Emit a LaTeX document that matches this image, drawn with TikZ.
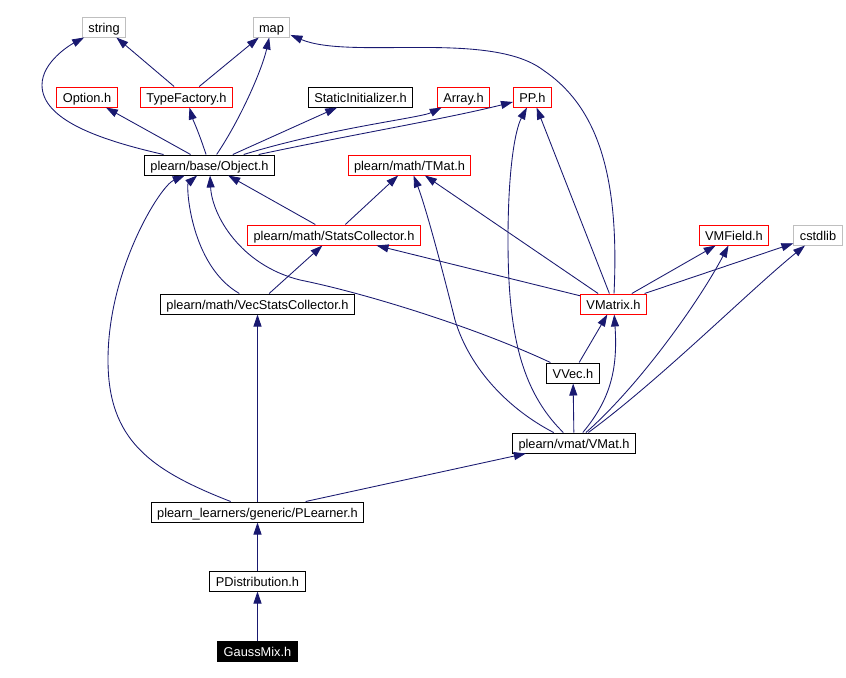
\documentclass[tikz,border=0pt]{standalone}
\usepackage{fontspec}
\setsansfont{Liberation Sans}
\usepackage{xcolor}
\usepackage{tikz}
\usetikzlibrary{arrows.meta}

\definecolor{edgeblue}{HTML}{191970}
\definecolor{boxred}{HTML}{FF0000}
\definecolor{boxgray}{HTML}{BFBFBF}

\begin{document}
\begin{tikzpicture}[
    x=0.75pt, y=-0.75pt,
    every node/.style={font=\sffamily\fontsize{9.6}{11}\selectfont},
    file/.style={draw, line width=0.75pt, rectangle, minimum height=15pt, text height=9pt, text depth=0.6pt, inner xsep=4.5pt, inner ysep=0pt},
    redfile/.style={file, draw=boxred},
    grayfile/.style={file, draw=boxgray},
    mainfile/.style={file, fill=black, text=white},
    dep/.style={draw=edgeblue, line width=0.65pt, -{Triangle[length=9pt, width=6pt]}, fill=none}
]
    \useasboundingbox (0,0) rectangle (846,678);

    % Files
    \node[grayfile] (string) at (104, 27) {string};
    \node[grayfile] (map) at (271.5, 27) {map};
    \node[redfile] (option) at (87, 97) {Option.h};
    \node[redfile] (typefactory) at (186.5, 97) {TypeFactory.h};
    \node[file] (staticinit) at (360.5, 97) {StaticInitializer.h};
    \node[redfile] (array) at (463.5, 97) {Array.h};
    \node[redfile] (pp) at (532.5, 97) {PP.h};
    \node[file] (object) at (209.5, 165) {plearn/base/Object.h};
    \node[redfile] (tmat) at (409.5, 165) {plearn/math/TMat.h};
    \node[redfile] (statscoll) at (334, 235) {plearn/math/StatsCollector.h};
    \node[redfile] (vmfield) at (734, 235) {VMField.h};
    \node[grayfile] (cstdlib) at (818, 235) {cstdlib};
    \node[file] (vecstats) at (257.5, 304) {plearn/math/VecStatsCollector.h};
    \node[redfile] (vmatrix) at (613.5, 304) {VMatrix.h};
    \node[file] (vvec) at (573, 373) {VVec.h};
    \node[file] (vmat) at (574, 443) {plearn/vmat/VMat.h};
    \node[file] (plearner) at (257.5, 512) {plearn\_learners/generic/PLearner.h};
    \node[file] (pdist) at (257.5, 581) {PDistribution.h};
    \node[mainfile] (gaussmix) at (257.5, 651) {GaussMix.h};

    % Includes of Object.h and TypeFactory.h
    \draw[dep] (object) .. controls (100,140) and (42,120) .. (42,85) .. controls (42,62) and (70,45) .. (string);
    \draw[dep] (typefactory) -- (string);
    \draw[dep] (typefactory) -- (map);
    \draw[dep] (object) .. controls (240,120) and (262,70) .. (map);
    \draw[dep] (object) -- (option);
    \draw[dep] (object) .. controls (198,130) and (193,120) .. (typefactory);
    \draw[dep] (object) -- (staticinit);
    \draw[dep] (object) .. controls (330,128) and (420,118) .. (array);
    \draw[dep] (object) .. controls (350,135) and (450,118) .. (pp);

    % Collectors
    \draw[dep] (statscoll) -- (object);
    \draw[dep] (statscoll) -- (tmat);
    \draw[dep] (vecstats) .. controls (190,265) and (186,185) .. (object);
    \draw[dep] (vecstats) -- (statscoll);

    % VMatrix.h
    \draw[dep] (vmatrix) .. controls (620,170) and (595,105) .. (543,70) .. controls (490,30) and (350,60) .. (map);
    \draw[dep] (vmatrix) -- (statscoll);
    \draw[dep] (vmatrix) -- (tmat);
    \draw[dep] (vmatrix) -- (pp);
    \draw[dep] (vmatrix) -- (vmfield);
    \draw[dep] (vmatrix) -- (cstdlib);

    % VVec.h
    \draw[dep] (vvec) .. controls (470,325) and (360,292) .. (300,280) .. controls (240,265) and (212,215) .. (object);
    \draw[dep] (vvec) -- (vmatrix);

    % VMat.h
    \draw[dep] (vmat) .. controls (610,400) and (618,370) .. (vmatrix);
    \draw[dep] (vmat) -- (vvec);
    \draw[dep] (vmat) .. controls (640,385) and (700,300) .. (vmfield);
    \draw[dep] (vmat) .. controls (660,380) and (750,290) .. (cstdlib);
    \draw[dep] (vmat) .. controls (510,410) and (470,370) .. (455,320) .. controls (440,260) and (425,205) .. (tmat);
    \draw[dep] (vmat) .. controls (520,390) and (508,330) .. (508,240) .. controls (508,170) and (515,130) .. (pp);

    % Learners
    \draw[dep] (plearner) .. controls (150,470) and (108,440) .. (108,360) .. controls (108,270) and (160,186) .. (object);
    \draw[dep] (plearner) -- (vecstats);
    \draw[dep] (plearner) -- (vmat);
    \draw[dep] (pdist) -- (plearner);
    \draw[dep] (gaussmix) -- (pdist);

\end{tikzpicture}
\end{document}
